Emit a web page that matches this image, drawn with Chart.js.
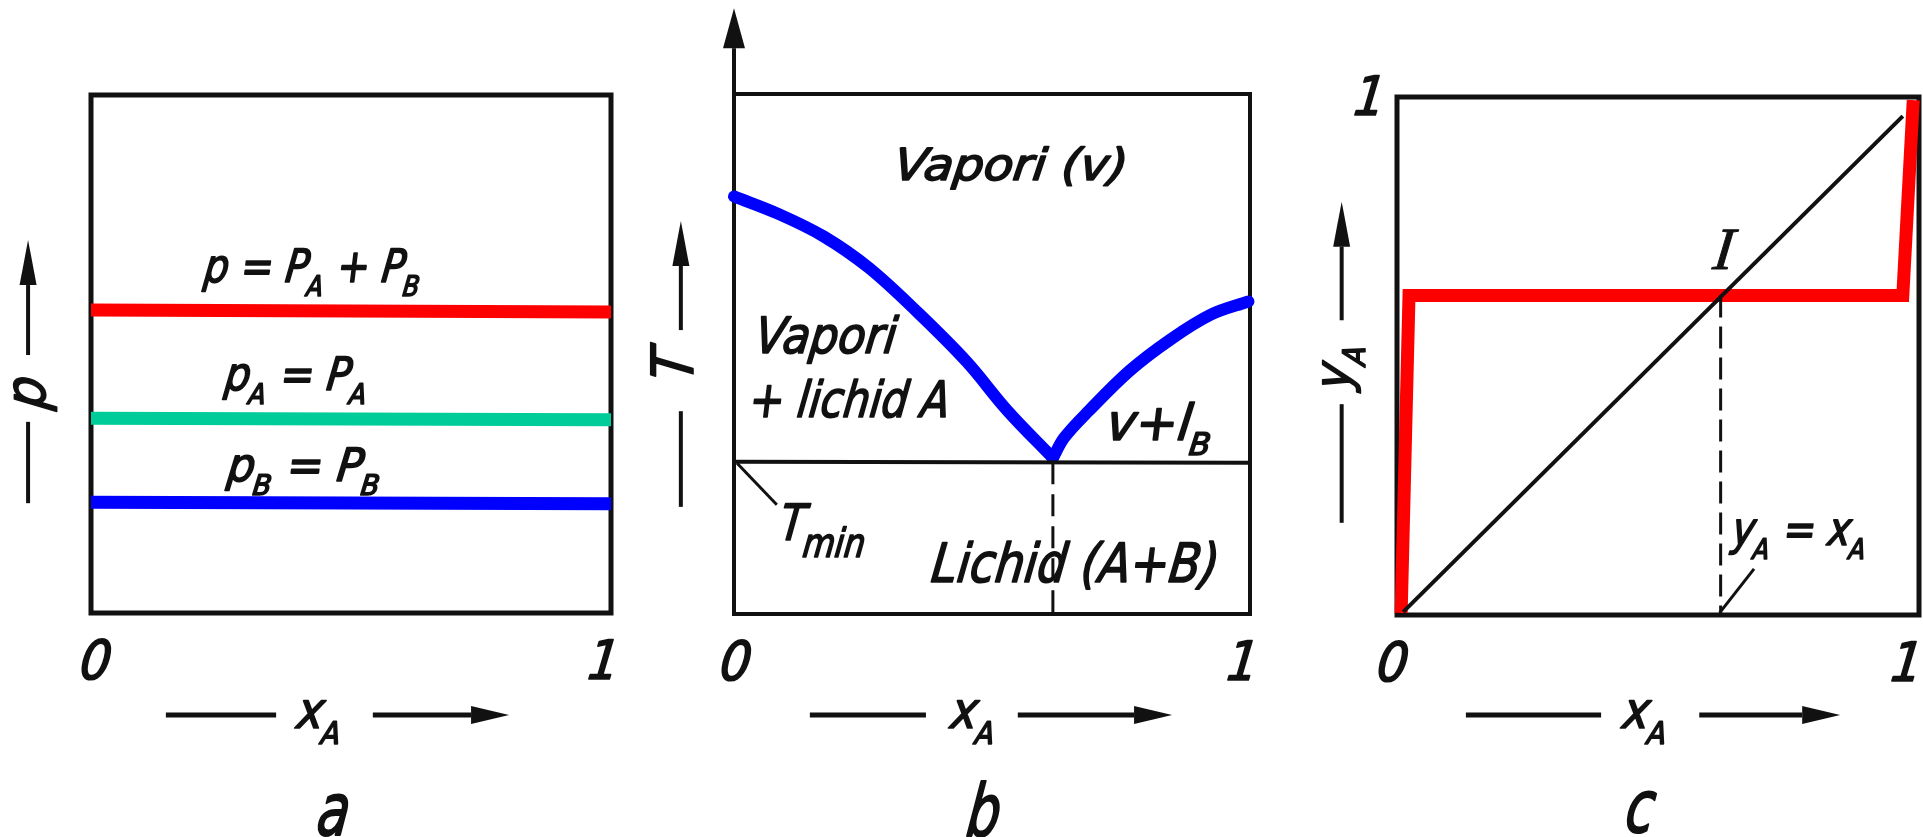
<!DOCTYPE html>
<html>
<head>
<meta charset="utf-8">
<script src="https://cdn.jsdelivr.net/npm/chart.js@4.4.1/dist/chart.umd.min.js"></script>
<style>
  html, body { margin: 0; padding: 0; background: #fff; width: 1923px; height: 837px; overflow: hidden; }
  canvas.panel { position: absolute; top: 0; }
</style>
</head>
<body>
<canvas id="pa" class="panel" width="641" height="837" style="left:0px"></canvas>
<canvas id="pb" class="panel" width="641" height="837" style="left:641px"></canvas>
<canvas id="pc" class="panel" width="641" height="837" style="left:1282px"></canvas>
<script>
// ---- composition axis (mole fraction of A) ----
const xEnds = [0, 1];
const xTickValues = [0, 1];
const xTickLabels = ['0', '1'];
const xTitle = 'x_{A}';
const panelLetters = ['a', 'b', 'c'];

// ---- (a) vapour pressures, independent of composition ----
const pTotal = [0.585, 0.581];
const pPartA = [0.376, 0.373];
const pPartB = [0.214, 0.211];
const pLabels = ['p = P_{A} + P_{B}', 'p_{A} = P_{A}', 'p_{B} = P_{B}'];
const pTitle = 'p';

// ---- (b) boiling curves of the immiscible pair ----
const liqAx = [0, 0.087, 0.174, 0.261, 0.356, 0.451, 0.530, 0.618];
const liqAT = [0.803, 0.769, 0.726, 0.666, 0.580, 0.485, 0.391, 0.300];
const liqBx = [0.618, 0.640, 0.688, 0.767, 0.846, 0.925, 0.997];
const liqBT = [0.300, 0.339, 0.391, 0.468, 0.528, 0.576, 0.601];
const tMinLine = [0.293, 0.291];
const eutecticX = [0.618, 0.618];
const eutecticT = [0.292, 0];
const tMinPointer = { x: [0.006, 0.083], y: [0.290, 0.210] };
const regionLabels = ['Vapori (v)', 'Vapori', '+ lichid A', 'v+l_{B}', 'T_{min}', 'Lichid (A+B)'];
const tTitle = 'T';

// ---- (c) vapour composition against liquid composition ----
const yvX = [0.008, 0.023, 0.969, 0.989];
const yvY = [0.004, 0.617, 0.617, 0.994];
const diagX = [0.012, 0.969];
const diagY = [0.006, 0.963];
const azeoX = [0.62, 0.62];
const azeoY = [0.617, 0];
const diagPointer = { x: [0.618, 0.684], y: [0.004, 0.089] };
const yTickValues = [1];
const yTickLabels = ['1'];
const cLabels = ['I', 'y_{A} = x_{A}'];
const yTitle = 'y_{A}';

// ---- drawing helpers ----
const SANS = "'DejaVu Sans Condensed', 'Liberation Sans Narrow', 'DejaVu Sans', sans-serif";
const SERIF = "'Liberation Serif', 'DejaVu Serif', serif";
const SLANT = 0.12;
const INK = '#111';
const INK_STROKE = 1.6;   // extra stroke gives the lettering a pen-drawn weight

function parseRuns(str) {
  const runs = [];
  const re = /_\{([^}]*)\}/g;
  let last = 0, m;
  while ((m = re.exec(str))) {
    if (m.index > last) runs.push([str.slice(last, m.index), false]);
    runs.push([m[1], true]);
    last = re.lastIndex;
  }
  if (last < str.length) runs.push([str.slice(last), false]);
  return runs;
}

function drawLabel(ctx, str, x, y, o) {
  const size = o.size;
  const subSize = size * (o.subScale || 0.62);
  const subDy = o.subDy !== undefined ? o.subDy : size * 0.3;
  const fam = o.serif ? SERIF : SANS;
  const runs = parseRuns(str);
  const widths = [];
  let total = 0;
  runs.forEach(([t, sub]) => {
    ctx.font = `italic ${sub ? subSize : size}px ${fam}`;
    const w = ctx.measureText(t).width;
    widths.push(w);
    total += w;
  });
  const sx = o.w ? o.w / total : 1;
  ctx.save();
  ctx.translate(x, y);
  if (o.rot) ctx.rotate(o.rot);
  ctx.transform(1, 0, -SLANT, 1, 0, 0);
  ctx.scale(sx, o.sy || 1);
  ctx.fillStyle = INK;
  ctx.strokeStyle = INK;
  ctx.lineWidth = o.stroke !== undefined ? o.stroke : INK_STROKE;
  ctx.lineJoin = 'round';
  ctx.textAlign = 'left';
  ctx.textBaseline = 'alphabetic';
  let cx = -total / 2;
  runs.forEach(([t, sub], i) => {
    ctx.font = `italic ${sub ? subSize : size}px ${fam}`;
    ctx.fillText(t, cx, sub ? subDy : 0);
    if (ctx.lineWidth > 0) ctx.strokeText(t, cx, sub ? subDy : 0);
    cx += widths[i];
  });
  ctx.restore();
}

function drawArrow(ctx, x1, y1, x2, y2, lw, headLen, headW) {
  const ang = Math.atan2(y2 - y1, x2 - x1);
  const bx = x2 - Math.cos(ang) * headLen, by = y2 - Math.sin(ang) * headLen;
  ctx.save();
  ctx.strokeStyle = INK; ctx.fillStyle = INK; ctx.lineWidth = lw; ctx.lineCap = 'butt';
  ctx.beginPath(); ctx.moveTo(x1, y1); ctx.lineTo(bx, by); ctx.stroke();
  const nx = -Math.sin(ang) * headW / 2, ny = Math.cos(ang) * headW / 2;
  ctx.beginPath();
  ctx.moveTo(x2, y2); ctx.lineTo(bx + nx, by + ny); ctx.lineTo(bx - nx, by - ny);
  ctx.closePath(); ctx.fill();
  ctx.restore();
}

function drawSeg(ctx, x1, y1, x2, y2, lw) {
  ctx.save();
  ctx.strokeStyle = INK; ctx.lineWidth = lw;
  ctx.beginPath(); ctx.moveTo(x1, y1); ctx.lineTo(x2, y2); ctx.stroke();
  ctx.restore();
}

// per-panel decorations, positioned in the panel's own data units
const decor = {
  pa: {
    frame: 5,
    tickShift: [3, -9],
    letter: { x: 0.462, y: -0.429 },
    xTitle: { cx: 0.4375, base: -0.222, line: -0.197, dash: [0.144, 0.356], arrow: [0.542, 0.804] },
    yTitle: { text: pTitle, base: -0.088, cy: 0.423, size: 56, line: -0.121, lower: [0.212, 0.369], upper: [0.498, 0.72] },
    labels: [
      { i: 0, x: 0.424, y: 0.639, size: 46, w: 217 },
      { i: 1, x: 0.393, y: 0.430, size: 46, w: 143 },
      { i: 2, x: 0.408, y: 0.255, size: 46, w: 154 }
    ],
    labelText: pLabels
  },
  pb: {
    frame: 4,
    tickShift: [0, -9],
    axisUp: { from: 1, to: 1.165 },
    letter: { x: 0.48, y: -0.426 },
    xTitle: { cx: 0.462, base: -0.219, line: -0.194, dash: [0.147, 0.372], arrow: [0.550, 0.849] },
    yTitle: { text: tTitle, base: -0.079, cy: 0.475, size: 58, line: -0.103, lower: [0.206, 0.390], upper: [0.546, 0.756] },
    labels: [
      { i: 0, x: 0.534, y: 0.835, size: 44, w: 233 },
      { i: 1, x: 0.175, y: 0.502, size: 50, w: 141 },
      { i: 2, x: 0.221, y: 0.379, size: 50, w: 200 },
      { i: 3, x: 0.822, y: 0.335, size: 50, w: 106 },
      { i: 4, x: 0.171, y: 0.142, size: 50, w: 87, subScale: 0.8, subDy: 17 },
      { i: 5, x: 0.658, y: 0.062, size: 54, w: 287 }
    ],
    labelText: regionLabels
  },
  pc: {
    frame: 5,
    tickShift: [-6, -14],
    letter: { x: 0.462, y: -0.419 },
    yTicks: true,
    xTitle: { cx: 0.474, base: -0.218, line: -0.193, dash: [0.132, 0.391], arrow: [0.579, 0.849] },
    yTitle: { text: yTitle, base: -0.090, cy: 0.477, size: 50, line: -0.106, lower: [0.178, 0.407], upper: [0.569, 0.798] },
    labels: [
      { i: 0, x: 0.622, y: 0.668, size: 60, serif: true, stroke: 1 },
      { i: 1, x: 0.769, y: 0.135, size: 46, w: 135 }
    ],
    labelText: cLabels
  }
};

const sketchPlugin = {
  id: 'sketch',
  beforeDatasetsDraw(chart) {
    const d = decor[chart.canvas.id];
    const ctx = chart.ctx, a = chart.chartArea;
    ctx.save();
    ctx.strokeStyle = INK; ctx.lineWidth = d.frame; ctx.lineJoin = 'miter';
    ctx.strokeRect(a.left, a.top, a.right - a.left, a.bottom - a.top);
    ctx.restore();
    if (d.axisUp) {
      const X = chart.scales.x, Y = chart.scales.y;
      drawArrow(ctx, X.getPixelForValue(0), Y.getPixelForValue(d.axisUp.from),
        X.getPixelForValue(0), Y.getPixelForValue(d.axisUp.to), d.frame, 40, 22);
    }
  },
  afterDatasetsDraw(chart) {
    const d = decor[chart.canvas.id];
    const ctx = chart.ctx, a = chart.chartArea;
    const X = chart.scales.x, Y = chart.scales.y;
    const px = v => X.getPixelForValue(v), py = v => Y.getPixelForValue(v);

    // tick labels at the ends of the composition axis
    xTickValues.forEach((v, i) => drawLabel(ctx, xTickLabels[i], px(v) + d.tickShift[i], a.bottom + 66, { size: 54 }));
    if (d.yTicks) {
      yTickValues.forEach((v, i) => drawLabel(ctx, yTickLabels[i], a.left - 29, py(v) + 18, { size: 54 }));
    }

    // x axis title with its arrow
    const t = d.xTitle;
    drawSeg(ctx, px(t.dash[0]), py(t.line), px(t.dash[1]), py(t.line), 5);
    drawArrow(ctx, px(t.arrow[0]), py(t.line), px(t.arrow[1]), py(t.line), 5, 38, 18);
    drawLabel(ctx, xTitle, px(t.cx), py(t.base), { size: 50, subDy: 16 });

    // y axis title, rotated, with its arrow
    const u = d.yTitle;
    drawSeg(ctx, px(u.line), py(u.lower[0]), px(u.line), py(u.lower[1]), 4);
    drawArrow(ctx, px(u.line), py(u.upper[0]), px(u.line), py(u.upper[1]), 4, 45, 17);
    drawLabel(ctx, u.text, px(u.base), py(u.cy), { size: u.size, rot: -Math.PI / 2 });

    // panel letter
    const letterIdx = ['pa', 'pb', 'pc'].indexOf(chart.canvas.id);
    drawLabel(ctx, panelLetters[letterIdx], px(d.letter.x), py(d.letter.y), { size: 58, sy: 1.25 });

    // in-plot labels
    d.labels.forEach(l => drawLabel(ctx, d.labelText[l.i], px(l.x), py(l.y), l));
  }
};

function series(xs, ys, color, width, extra) {
  return Object.assign({
    data: xs.map((x, i) => ({ x, y: ys[i] })),
    borderColor: color, borderWidth: width, fill: false,
    pointRadius: 0, tension: 0, clip: false,
    borderCapStyle: 'butt', borderJoinStyle: 'miter'
  }, extra || {});
}

function makeChart(id, datasets, pad) {
  return new Chart(document.getElementById(id), {
    type: 'line',
    data: { datasets },
    options: {
      responsive: false,
      animation: false,
      devicePixelRatio: 1,
      events: [],
      layout: { padding: pad },
      scales: {
        x: { type: 'linear', min: 0, max: 1, display: false },
        y: { type: 'linear', min: 0, max: 1, display: false }
      },
      plugins: { legend: { display: false }, tooltip: { enabled: false }, title: { display: false } }
    },
    plugins: [sketchPlugin]
  });
}

const RED = '#ff0000', GREEN = '#00cc99', BLUE = '#0000ff';

makeChart('pa', [
  series(xEnds, pTotal, RED, 13),
  series(xEnds, pPartA, GREEN, 13),
  series(xEnds, pPartB, BLUE, 13)
], { left: 91, right: 30, top: 95, bottom: 224 });

const curveStyle = { tension: 0.35, borderCapStyle: 'round', borderJoinStyle: 'round' };
makeChart('pb', [
  series(xEnds, tMinLine, INK, 4),
  series(eutecticX, eutecticT, INK, 3, { borderDash: [22, 10] }),
  series(tMinPointer.x, tMinPointer.y, INK, 3),
  series(liqAx, liqAT, BLUE, 12, curveStyle),
  series(liqBx, liqBT, BLUE, 12, curveStyle)
], { left: 93, right: 32, top: 94, bottom: 223 });

makeChart('pc', [
  series(diagX, diagY, INK, 4),
  series(azeoX, azeoY, INK, 3, { borderDash: [22, 9] }),
  series(diagPointer.x, diagPointer.y, INK, 3),
  series(yvX, yvY, RED, 13)
], { left: 115, right: 4, top: 97, bottom: 222 });
</script>
</body>
</html>
